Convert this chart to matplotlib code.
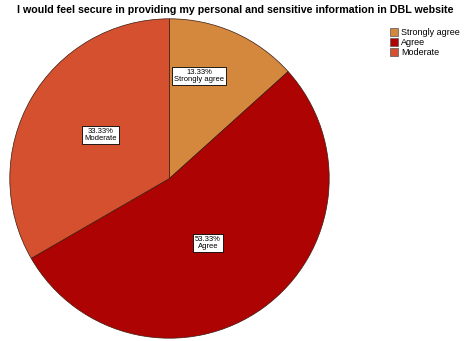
import numpy as np
import matplotlib.pyplot as plt
from matplotlib.patches import Patch

# survey responses
categories = ['Strongly agree', 'Agree', 'Moderate']
percents = [13.33, 53.33, 33.33]
colors = ['#D4883E', '#AE0303', '#D5502E']

# label placement inside slices (radius fraction, angle shift in degrees)
label_r = [0.67, 0.47, 0.51]
label_shift = [8, -5, -2]

plt.rcParams['font.family'] = ['Liberation Sans', 'DejaVu Sans']

fig = plt.figure(figsize=(4.71, 3.41), dpi=100)
ax = fig.add_axes([9 / 471, 2 / 341, 321 / 471, 321 / 341])

wedges, _ = ax.pie(percents, colors=colors, startangle=90, counterclock=False,
                   wedgeprops=dict(edgecolor='#3a1a10', linewidth=0.5))
ax.set_xlim(-1.005, 1.005)
ax.set_ylim(-1.005, 1.005)
ax.set_aspect('equal')

# boxed value labels inside each slice
for w, pct, cat, r, sh in zip(wedges, percents, categories, label_r, label_shift):
    mid = np.deg2rad((w.theta1 + w.theta2) / 2 + sh)
    ax.text(r * np.cos(mid), r * np.sin(mid), f'{pct:.2f}%\n{cat}',
            ha='center', va='center', fontsize=5.5, linespacing=1.0,
            bbox=dict(boxstyle='square,pad=0.25', fc='white', ec='black', lw=0.6))

fig.text(0.5, 0.972, 'I would feel secure in providing my personal and sensitive information in DBL website',
         ha='center', va='center', fontsize=7.7, fontweight='bold')

handles = [Patch(facecolor=c, edgecolor='#555555', linewidth=0.5) for c in colors]
fig.legend(handles, categories, loc='upper left', bbox_to_anchor=(384 / 471, 1 - 22 / 341),
           frameon=False, fontsize=6.5, handlelength=0.9, handleheight=0.9,
           handletextpad=0.3, labelspacing=0.1, borderpad=0.2)

fig.savefig('out.png', dpi=100)
